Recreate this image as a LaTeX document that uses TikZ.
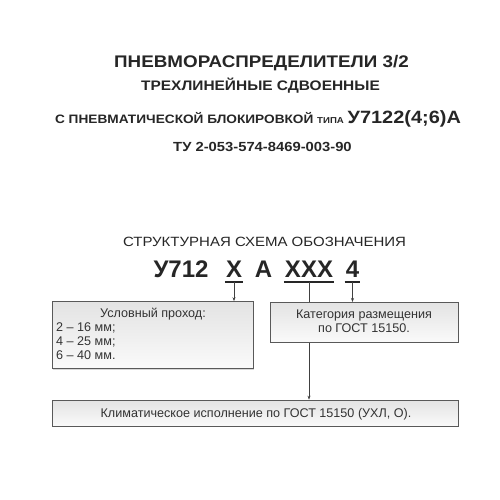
\documentclass[tikz,border=0pt]{standalone}
\usepackage{fontspec}
\setmainfont{Liberation Sans}
\newfontfamily\widesans[FakeStretch=1.12]{Liberation Sans}
\usetikzlibrary{shadows,arrows.meta}
\tikzset{
  ttl/.style={inner sep=0pt, anchor=base, text=black!85},
  codepart/.style={inner sep=0pt, anchor=base, font=\fontsize{24}{24}\selectfont\bfseries, text=black!85},
  infobox/.style={draw=gray!70!black, line width=0.7pt, top color=gray!22, bottom color=gray!4, drop shadow={shadow xshift=1.2pt, shadow yshift=-1.2pt, fill=gray!60}, inner sep=0pt},
  boxtext/.style={inner sep=0pt, anchor=base, font=\fontsize{12.6}{13}\selectfont, text=black!80},
  conn/.style={draw=gray!50!black, line width=0.6pt},
  arr/.style={conn, -{Stealth[length=4pt, width=3pt]}},
  uline/.style={line width=1.8pt, draw=black!85}
}
\begin{document}
\begin{tikzpicture}[x=1pt, y=-1pt]
\useasboundingbox (0,0) rectangle (500,500);
\fill[white] (0,0) rectangle (500,500);
% titles
\node[ttl, font=\widesans\fontsize{16.8}{17}\selectfont\bfseries] (t1) at (261.5,68) {ПНЕВМОРАСПРЕДЕЛИТЕЛИ 3/2};
\node[ttl, font=\widesans\fontsize{13.8}{14}\selectfont\bfseries] (t2) at (260.5,91) {ТРЕХЛИНЕЙНЫЕ СДВОЕННЫЕ};
\node[ttl, font=\widesans\fontsize{12.2}{13}\selectfont\bfseries] (t3) at (258,123) {С ПНЕВМАТИЧЕСКОЙ БЛОКИРОВКОЙ {\fontsize{8.6}{9}\selectfont ТИПА} {\fontsize{17.8}{18}\selectfont У7122(4;6)А}};
\node[ttl, font=\widesans\fontsize{13.2}{14}\selectfont\bfseries] (t4) at (262.5,151.5) {ТУ 2-053-574-8469-003-90};
\node[ttl, font=\widesans\fontsize{13.4}{14}\selectfont] (t5) at (264.5,246) {СТРУКТУРНАЯ СХЕМА ОБОЗНАЧЕНИЯ};
% code
\node[codepart] (c1) at (181,277) {У712};
\node[codepart] (cx) at (234,277) {Х};
\node[codepart] (ca) at (263.5,277) {А};
\node[codepart] (cxxx) at (309,277) {ХХХ};
\node[codepart] (c4) at (352.5,277) {4};
\coordinate (ux) at (234,282);
\coordinate (uxxx) at (309,282);
\coordinate (u4) at (352.5,282);
\draw[uline] ([xshift=-1pt]cx.base west |- ux) -- ([xshift=1pt]cx.base east |- ux);
\draw[uline] ([xshift=-1pt]cxxx.base west |- uxxx) -- ([xshift=1pt]cxxx.base east |- uxxx);
\draw[uline] ([xshift=-1pt]c4.base west |- u4) -- ([xshift=1pt]c4.base east |- u4);
% boxes
\node[infobox, minimum width=201pt, minimum height=67pt] (b1) at (152.5,335) {};
\node[infobox, minimum width=406pt, minimum height=26pt] (b3) at (255,413) {};
% connectors
\draw[arr] (ux) -- (ux |- b1.north);
\draw[arr] (u4) -- (u4 |- 0,302);
\draw[arr] (uxxx) -- (uxxx |- b3.north);
% box 2 drawn over the long connector
\node[infobox, minimum width=188pt, minimum height=40pt] (b2) at (364,322) {};
% box texts
\node[boxtext] (b1t0) at (153,317) {Условный проход:};
\node[boxtext, anchor=base west] (b1t1) at (56,331) {2 – 16 мм;};
\node[boxtext, anchor=base west] (b1t2) at (56,345) {4 – 25 мм;};
\node[boxtext, anchor=base west] (b1t3) at (56,359) {6 – 40 мм.};
\node[boxtext] (b2t1) at (364,318) {Категория размещения};
\node[boxtext] (b2t2) at (364,332) {по ГОСТ 15150.};
\node[boxtext] (b3t) at (256,417) {Климатическое исполнение по ГОСТ 15150 (УХЛ, О).};
\end{tikzpicture}
\end{document}
